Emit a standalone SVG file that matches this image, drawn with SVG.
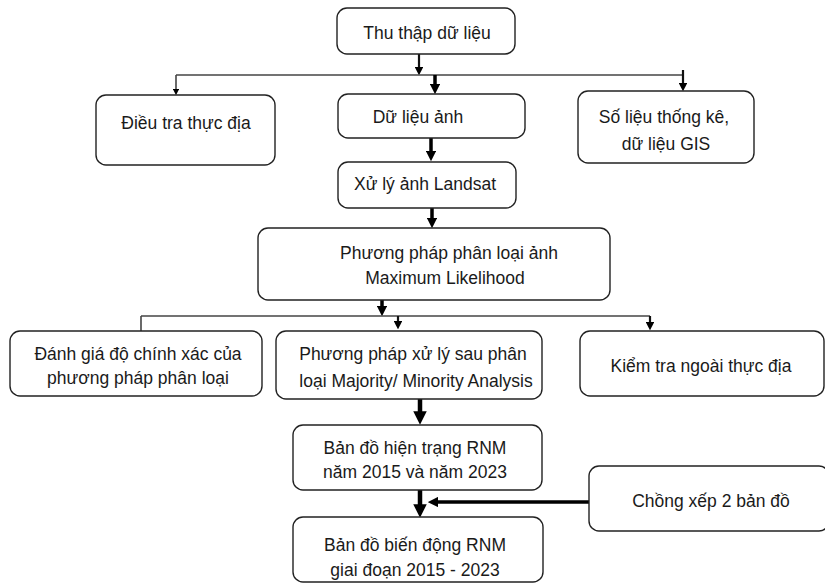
<svg xmlns="http://www.w3.org/2000/svg" width="825" height="583" viewBox="0 0 825 583">
<style>
.box{fill:#fff;stroke:#222;stroke-width:1.4}
text{font-family:"Liberation Sans",Arial,sans-serif;font-size:17.5px;fill:#1a1a1a;text-anchor:middle}
.ln{stroke:#111;fill:none;stroke-width:2.2}
.hl{stroke:#444;fill:none;stroke-width:1.6}
.tk{stroke:#000;fill:none;stroke-width:4.5}
.tm{stroke:#000;fill:none;stroke-width:3.5}
</style>
<defs>
<marker id="ah" markerWidth="4" markerHeight="4" refX="2" refY="2" orient="auto" markerUnits="strokeWidth"><path d="M0,0 L4,2 L0,4 Z" fill="#000"/></marker>
<marker id="ahk" markerWidth="3" markerHeight="3" refX="1.5" refY="1.5" orient="auto" markerUnits="strokeWidth"><path d="M0,0 L3,1.5 L0,3 Z" fill="#000"/></marker>
</defs>
<rect width="825" height="583" fill="#fff"/>
<g id="connectors">
<line class="ln" x1="419" y1="54" x2="419" y2="71" marker-end="url(#ah)"/>
<line class="hl" x1="176" y1="75" x2="683" y2="75"/>
<line class="hl" x1="176" y1="75" x2="176" y2="92" marker-end="url(#ah)"/>
<line class="tm" x1="435" y1="75" x2="435" y2="89" marker-end="url(#ahk)"/>
<line class="ln" x1="683" y1="70" x2="683" y2="87" marker-end="url(#ah)"/>
<line class="tm" x1="431" y1="138" x2="431" y2="156" marker-end="url(#ahk)"/>
<line class="tm" x1="432" y1="208" x2="432" y2="223" marker-end="url(#ahk)"/>
<line class="tm" x1="382" y1="300" x2="382" y2="311" marker-end="url(#ahk)"/>
<line class="hl" x1="141" y1="316" x2="650" y2="316"/>
<line class="hl" x1="141" y1="316" x2="141" y2="331"/>
<line class="ln" x1="398" y1="316" x2="398" y2="325" marker-end="url(#ah)"/>
<line class="ln" x1="650" y1="316" x2="650" y2="326" marker-end="url(#ah)"/>
<line class="tk" x1="420" y1="399" x2="420" y2="418" marker-end="url(#ahk)"/>
<line class="tk" x1="420" y1="490" x2="420" y2="511" marker-end="url(#ahk)"/>
<line class="tm" x1="589" y1="502" x2="433" y2="502" marker-end="url(#ahk)"/>
</g>
<g id="n1"><rect class="box" x="337" y="8" width="178" height="46" rx="10"/><text x="427" y="39">Thu thập dữ liệu</text></g>
<g id="n2"><rect class="box" x="96" y="95" width="179" height="70" rx="10"/><text x="186" y="129">Điều tra thực địa</text></g>
<g id="n3"><rect class="box" x="338" y="94" width="187" height="44" rx="10"/><text x="418" y="123">Dữ liệu ảnh</text></g>
<g id="n4"><rect class="box" x="578" y="91" width="176" height="72" rx="10"/><text x="664" y="123">Số liệu thống  kê,</text><text x="666" y="150">dữ liệu GIS</text></g>
<g id="n5"><rect class="box" x="338" y="162" width="178" height="46" rx="10"/><text x="425" y="190">Xử lý ảnh Landsat</text></g>
<g id="n6"><rect class="box" x="258" y="228" width="352" height="72" rx="10"/><text x="449" y="259">Phương pháp phân loại ảnh</text><text x="445" y="284">Maximum Likelihood</text></g>
<g id="n7"><rect class="box" x="10" y="331" width="252" height="65" rx="10"/><text x="138" y="360">Đánh giá độ chính xác của</text><text x="138" y="384">phương pháp phân loại</text></g>
<g id="n8"><rect class="box" x="276" y="331" width="266" height="68" rx="10"/><text x="413" y="360">Phương pháp xử lý sau phân</text><text x="416" y="387">loại Majority/ Minority Analysis</text></g>
<g id="n9"><rect class="box" x="580" y="331" width="244" height="65" rx="10"/><text x="701" y="372">Kiểm tra ngoài thực địa</text></g>
<g id="n10"><rect class="box" x="293" y="425" width="249" height="65" rx="10"/><text x="415" y="454">Bản đồ hiện trạng RNM</text><text x="415" y="478">năm 2015 và năm 2023</text></g>
<g id="n11"><rect class="box" x="589" y="466" width="240" height="65" rx="10"/><text x="711" y="507">Chồng xếp 2 bản đồ</text></g>
<g id="n12"><rect class="box" x="293" y="517" width="250" height="65" rx="10"/><text x="415" y="551">Bản đồ biến động RNM</text><text x="415" y="576">giai đoạn 2015 - 2023</text></g>
</svg>
